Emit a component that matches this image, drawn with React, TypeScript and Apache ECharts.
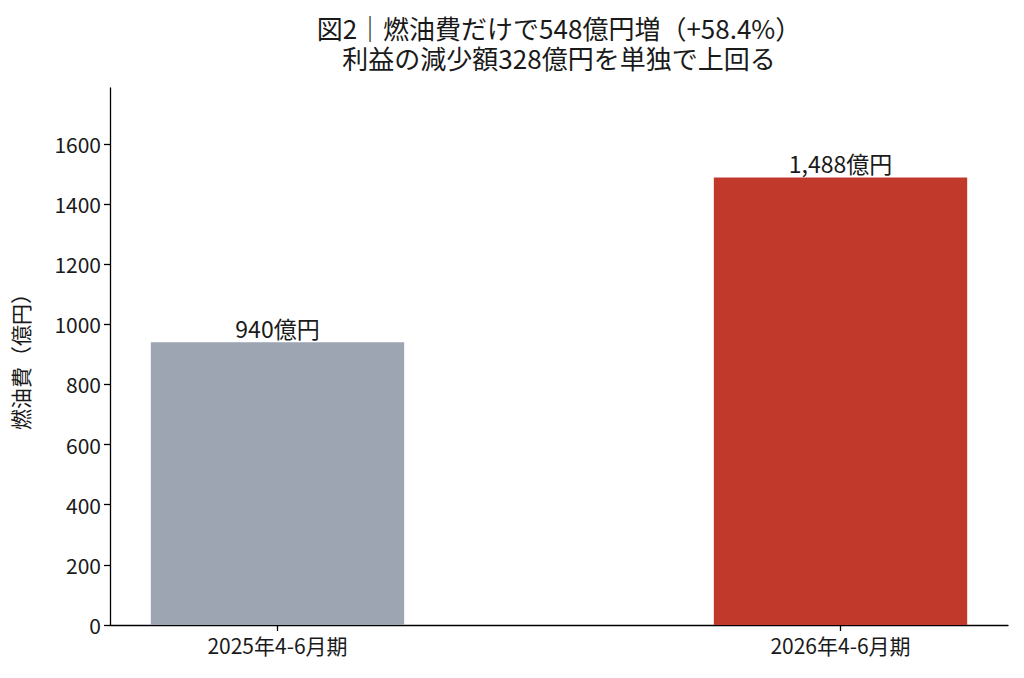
import React, { useEffect, useRef } from "react";
import * as echarts from "echarts";

const categories = ["2025年4-6月期", "2026年4-6月期"];
const values = [940, 1488];
const barColors = ["#9CA5B1", "#C0392B"];
const yTicks = [0, 200, 400, 600, 800, 1000, 1200, 1400, 1600];
const titleLines = ["図2｜燃油費だけで548億円増（+58.4%）", "利益の減少額328億円を単独で上回る"];
const yAxisName = "燃油費（億円）";

const W = 1024;
const H = 678;
const GRID = { left: 110, right: 16, top: 88, bottom: 53 };
const X_MIN = -0.2975;
const X_MAX = 1.2975;
const BAR_FRAC = 0.45;
const FONT = "'Noto Sans CJK JP', 'Noto Sans', sans-serif";

export default function App() {
  const ref = useRef<HTMLDivElement>(null);
  useEffect(() => {
    if (!ref.current) return;
    const chart = echarts.init(ref.current, undefined, { renderer: "svg" });
    const gridW = W - GRID.left - GRID.right;
    const barWidth = (BAR_FRAC * gridW) / (X_MAX - X_MIN);
    const yMax = Math.max(...values) * 1.2;
    chart.setOption({
      animation: false,
      backgroundColor: "#ffffff",
      textStyle: { fontFamily: FONT },
      title: titleLines.map((t, i) => ({
        text: t,
        left: GRID.left + gridW / 2,
        textAlign: "center",
        top: 13 + i * 30,
        padding: 0,
        textStyle: {
          fontFamily: FONT,
          fontSize: 26,
          fontWeight: "normal",
          color: "#1a1a1a",
          lineHeight: 28,
        },
      })),
      grid: { ...GRID, containLabel: false },
      xAxis: {
        type: "value",
        min: X_MIN,
        max: X_MAX,
        splitLine: { show: false },
        axisLine: { show: true, onZero: false, lineStyle: { color: "#000", width: 1.3 } },
        axisTick: { show: true, length: 6, customValues: [0, 1], lineStyle: { color: "#000", width: 1.3 } },
        axisLabel: {
          customValues: [0, 1],
          formatter: (v: number) => categories[Math.round(v)] ?? "",
          fontSize: 21,
          color: "#1a1a1a",
          margin: 9,
          fontFamily: FONT,
        },
      },
      yAxis: {
        type: "value",
        min: 0,
        max: yMax,
        name: yAxisName,
        nameLocation: "middle",
        nameRotate: 90,
        nameGap: 80,
        nameTextStyle: { fontSize: 21, color: "#1a1a1a", fontFamily: FONT },
        splitLine: { show: false },
        axisLine: { show: true, onZero: false, lineStyle: { color: "#000", width: 1.3 } },
        axisTick: { show: true, length: 6, customValues: yTicks, lineStyle: { color: "#000", width: 1.3 } },
        axisLabel: {
          customValues: yTicks,
          formatter: (v: number) => String(v),
          fontSize: 21,
          color: "#1a1a1a",
          margin: 9,
          fontFamily: FONT,
        },
      },
      series: [
        {
          type: "bar",
          barWidth,
          data: values.map((v, i) => ({
            value: [i, v],
            itemStyle: { color: barColors[i] },
          })),
          label: {
            show: true,
            position: "top",
            distance: 3,
            fontSize: 23,
            color: "#1a1a1a",
            fontFamily: FONT,
            formatter: (p: any) => `${p.value[1].toLocaleString("en-US")}億円`,
          },
        },
      ],
    });
    return () => chart.dispose();
  }, []);
  return <div ref={ref} style={{ width: W, height: H, position: "absolute", left: 0, top: 0 }} />;
}
